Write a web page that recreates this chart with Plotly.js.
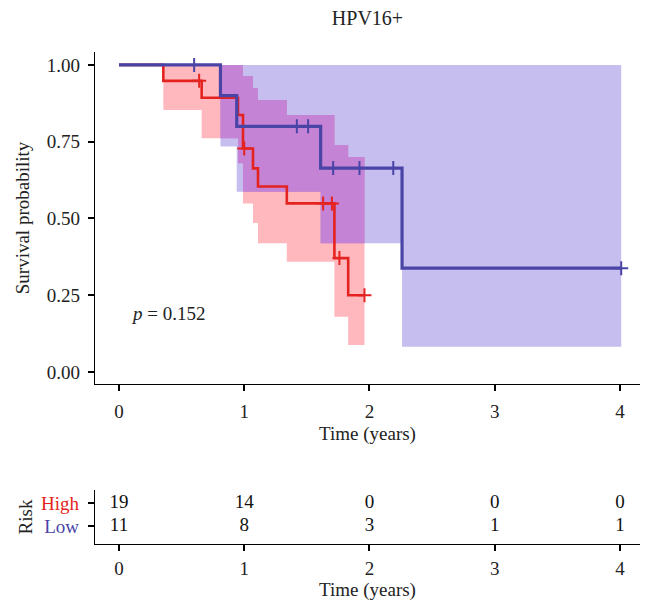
<!DOCTYPE html>
<html>
<head>
<meta charset="utf-8">
<script src="https://cdn.plot.ly/plotly-3.0.1.min.js"></script>
<style>html,body{margin:0;padding:0;background:#fff;}#chart{width:651px;height:607px;}</style>
</head>
<body>
<div id="chart"></div>
<script>
// ---- data ----
const highTimes = [0, 0.354, 0.66, 0.95, 0.99, 1.07, 1.11, 1.34, 1.72, 1.83, 1.96];
const highSurv  = [1, 0.948, 0.893, 0.837, 0.728, 0.663, 0.604, 0.549, 0.371, 0.25, 0.25];
const highUpper = [1, 1, 1, 1, 0.963, 0.924, 0.886, 0.837, 0.739, 0.70, 0.70];
const highLower = [1, 0.853, 0.761, 0.68, 0.549, 0.485, 0.419, 0.359, 0.18, 0.088, 0.088];
const highCensorTimes = [0.64, 1.0, 1.63, 1.70, 1.76, 1.96];
const highCensorSurv  = [0.948, 0.728, 0.549, 0.549, 0.371, 0.25];

const lowTimes = [0, 0.81, 0.94, 1.61, 2.26, 4.01];
const lowSurv  = [1, 0.90, 0.80, 0.664, 0.338, 0.338];
const lowUpper = [1, 1, 1, 1, 1, 1];
const lowLower = [1, 0.734, 0.587, 0.419, 0.082, 0.082];
const lowCensorTimes = [0.60, 1.42, 1.51, 1.71, 1.92, 2.19, 4.01];
const lowCensorSurv  = [1, 0.80, 0.80, 0.664, 0.664, 0.664, 0.338];

const riskTimes = [0, 1, 2, 3, 4];
const riskHigh = [19, 14, 0, 0, 0];
const riskLow  = [11, 8, 3, 1, 1];
const riskGroups = ['High', 'Low'];
const xTicks = [0, 1, 2, 3, 4];
const yTicks = [0, 0.25, 0.5, 0.75, 1];
const yTickText = ['0.00', '0.25', '0.50', '0.75', '1.00'];
const pText = '<i>p</i> = 0.152';

// ---- styles ----
const RED = '#e42320';
const BLUE = '#4a44a6';
const FONT = 'Liberation Serif, Times New Roman, serif';
const FS = 19;

function band(t, lo, up, fill) {
  return [
    {x: t, y: lo, type: 'scatter', mode: 'lines', line: {shape: 'hv', width: 0}, hoverinfo: 'skip', showlegend: false, xaxis: 'x', yaxis: 'y'},
    {x: t, y: up, type: 'scatter', mode: 'lines', line: {shape: 'hv', width: 0}, fill: 'tonexty', fillcolor: fill, hoverinfo: 'skip', showlegend: false, xaxis: 'x', yaxis: 'y'}
  ];
}

// step-function lookup
function stepAt(times, vals, t) {
  let v = vals[0];
  for (let i = 0; i < times.length; i++) { if (times[i] <= t) v = vals[i]; }
  return v;
}
// overlap of the two confidence bands (where both exist)
const tEnd = Math.min(highTimes[highTimes.length - 1], lowTimes[lowTimes.length - 1]);
const ovT = Array.from(new Set(highTimes.concat(lowTimes))).filter(t => t <= tEnd).sort((a, b) => a - b);
const ovLo = [], ovUp = [];
ovT.forEach(t => {
  const lo = Math.max(stepAt(highTimes, highLower, t), stepAt(lowTimes, lowLower, t));
  const up = Math.min(stepAt(highTimes, highUpper, t), stepAt(lowTimes, lowUpper, t));
  ovLo.push(lo); ovUp.push(Math.max(up, lo));
});

const traces = [].concat(
  band(highTimes, highLower, highUpper, 'rgba(255,10,30,0.29)'),
  band(lowTimes, lowLower, lowUpper, 'rgba(75,45,205,0.31)'),
  band(ovT, ovLo, ovUp, 'rgb(196,131,212)'),
  [
    {x: highTimes, y: highSurv, type: 'scatter', mode: 'lines', line: {shape: 'hv', color: RED, width: 2.6}, showlegend: false, xaxis: 'x', yaxis: 'y'},
    {x: lowTimes, y: lowSurv, type: 'scatter', mode: 'lines', line: {shape: 'hv', color: BLUE, width: 3.2}, showlegend: false, xaxis: 'x', yaxis: 'y'},
    {x: highCensorTimes, y: highCensorSurv, type: 'scatter', mode: 'markers', marker: {symbol: 'cross-thin', size: 10, line: {color: RED, width: 2}}, showlegend: false, xaxis: 'x', yaxis: 'y'},
    {x: lowCensorTimes, y: lowCensorSurv, type: 'scatter', mode: 'markers', marker: {symbol: 'cross-thin', size: 10, line: {color: BLUE, width: 2}}, showlegend: false, xaxis: 'x', yaxis: 'y'},
    {x: riskTimes, y: riskHigh.map(() => 1), text: riskHigh.map(String), type: 'scatter', mode: 'text', textfont: {family: FONT, size: FS, color: '#111'}, showlegend: false, hoverinfo: 'skip', xaxis: 'x2', yaxis: 'y2'},
    {x: riskTimes, y: riskLow.map(() => 0), text: riskLow.map(String), type: 'scatter', mode: 'text', textfont: {family: FONT, size: FS, color: '#111'}, showlegend: false, hoverinfo: 'skip', xaxis: 'x2', yaxis: 'y2'}
  ]
);

const axisCommon = {
  showline: true, linecolor: '#000', linewidth: 1.2,
  ticks: 'outside', ticklen: 6, tickwidth: 2, tickcolor: '#000',
  showgrid: false, zeroline: false,
  tickfont: {family: FONT, size: FS, color: '#222'}
};

const layout = {
  width: 651, height: 607,
  margin: {l: 95, r: 11, t: 52, b: 63},
  paper_bgcolor: '#fff', plot_bgcolor: '#fff',
  font: {family: FONT, size: FS, color: '#222'},
  title: {text: 'HPV16+', x: 0.5, xref: 'paper', xanchor: 'center', y: 1 - 18/607, yref: 'container', yanchor: 'middle', font: {family: FONT, size: 20, color: '#222'}},
  xaxis: Object.assign({}, axisCommon, {
    domain: [0, 1], anchor: 'y', range: [-0.1916, 4.16],
    tickvals: xTicks, ticktext: xTicks.map(String),
    ticklabelstandoff: 4,
    title: {text: 'Time (years)', font: {family: FONT, size: FS, color: '#222'}, standoff: 5}
  }),
  yaxis: Object.assign({}, axisCommon, {
    domain: [0.3252, 1], anchor: 'x', range: [-0.039, 1.042],
    tickvals: yTicks, ticktext: yTickText,
    ticklabelstandoff: 4,
    title: {text: 'Survival probability', font: {family: FONT, size: FS, color: '#222'}, standoff: 12}
  }),
  xaxis2: Object.assign({}, axisCommon, {
    domain: [0, 1], anchor: 'y2', range: [-0.1916, 4.16],
    tickvals: xTicks, ticktext: xTicks.map(String),
    ticklabelstandoff: 1,
    title: {text: 'Time (years)', font: {family: FONT, size: FS, color: '#222'}, standoff: 2}
  }),
  yaxis2: Object.assign({}, axisCommon, {
    domain: [0, 0.1098], anchor: 'x2', range: [-0.78, 1.565],
    tickvals: [1, 0],
    ticktext: ['<span style="color:' + RED + '">' + riskGroups[0] + '</span>', '<span style="color:' + BLUE + '">' + riskGroups[1] + '</span>'],
    ticklabelstandoff: 5,
    title: {text: 'Risk', font: {family: FONT, size: FS, color: '#222'}, standoff: 3}
  }),
  annotations: [
    {x: 0.08, y: 0.19, xref: 'x', yref: 'y', xanchor: 'left', yanchor: 'middle', text: pText, showarrow: false, font: {family: FONT, size: FS, color: '#222'}}
  ]
};

Plotly.newPlot('chart', traces, layout, {displayModeBar: false, staticPlot: true});
</script>
</body>
</html>
